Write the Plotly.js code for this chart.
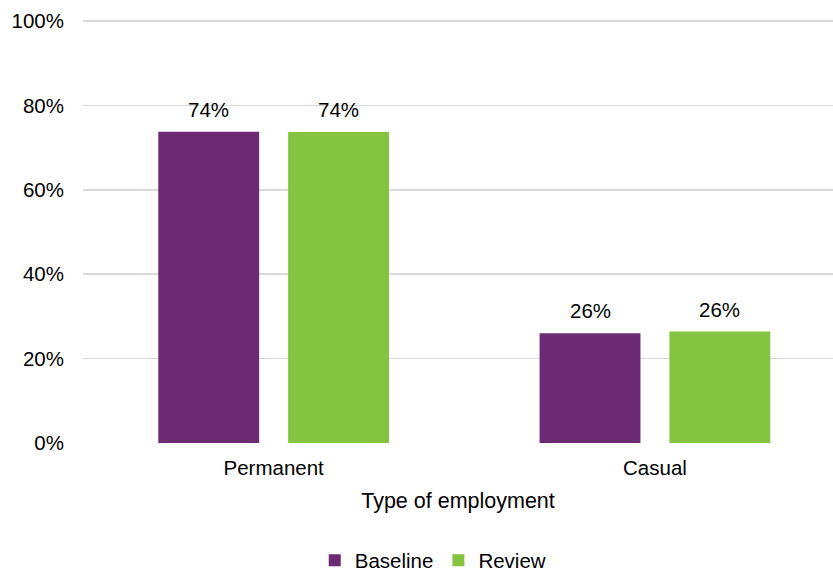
<!DOCTYPE html>
<html>
<head>
<meta charset="utf-8">
<script src="https://cdn.plot.ly/plotly-3.0.1.min.js"></script>
<style>html,body{margin:0;padding:0;background:#fff;}#chart{width:833px;height:572px;}</style>
</head>
<body>
<div id="chart"></div>
<script>
const categories = ["Permanent", "Casual"];
const seriesNames = ["Baseline", "Review"];
const baselineValues = [73.8, 26.0];
const reviewValues = [73.7, 26.4];
const valueLabels = [["74%", "26%"], ["74%", "26%"]];
const yTickVals = [0, 20, 40, 60, 80, 100];
const yTickText = ["0%", "20%", "40%", "60%", "80%", "100%"];
const colors = ["#6B2A73", "#84C441"];

const FONT = "Liberation Sans, Arial, sans-serif";
const FS = 20.5;
const bargap = 0.319;
const bargroupgap = 0.223;

const seriesValues = [baselineValues, reviewValues];
const traces = seriesValues.map((vals, s) => ({
  type: "bar",
  name: seriesNames[s],
  x: categories,
  y: vals,
  marker: { color: colors[s] },
  hoverinfo: "skip"
}));

// label positions derived from the grouped bar layout
const groupWidth = 1 - bargap;
const slot = groupWidth / seriesValues.length;
const annotations = [];
seriesValues.forEach((vals, s) => {
  vals.forEach((v, i) => {
    annotations.push({
      x: i - groupWidth / 2 + slot * (s + 0.5),
      y: v,
      xref: "x", yref: "y",
      text: valueLabels[s][i],
      showarrow: false,
      yanchor: "bottom",
      yshift: 9,
      font: { family: FONT, size: FS, color: "#000" }
    });
  });
});

const layout = {
  width: 833, height: 572,
  margin: { l: 83, r: 0, t: 19, b: 129, autoexpand: false },
  paper_bgcolor: "#fff", plot_bgcolor: "#fff",
  barmode: "group",
  bargap: bargap,
  bargroupgap: bargroupgap,
  font: { family: FONT, size: FS, color: "#000" },
  xaxis: {
    type: "category",
    automargin: false,
    range: [-0.5, 1.467],
    showgrid: false, showline: false, zeroline: false, ticks: "",
    ticklabelstandoff: 10,
    tickfont: { family: FONT, size: FS, color: "#000" },
    title: { text: "Type of employment", font: { family: FONT, size: 21.5, color: "#000" }, standoff: 15 }
  },
  yaxis: {
    automargin: false,
    range: [0, 100.5], tickvals: yTickVals, ticktext: yTickText,
    showgrid: true, gridcolor: "#d9d9d9", gridwidth: 1.5,
    zeroline: false, showline: false, ticks: "",
    ticklabelstandoff: 18,
    tickfont: { family: FONT, size: FS, color: "#000" }
  },
  legend: {
    orientation: "h", x: 0.467, xanchor: "center", y: -0.277, yanchor: "middle",
    font: { family: FONT, size: FS, color: "#000" },
    itemwidth: 30, traceorder: "normal"
  },
  annotations: annotations,
  showlegend: true
};

Plotly.newPlot("chart", traces, layout, { displayModeBar: false, staticPlot: true });
</script>
</body>
</html>
